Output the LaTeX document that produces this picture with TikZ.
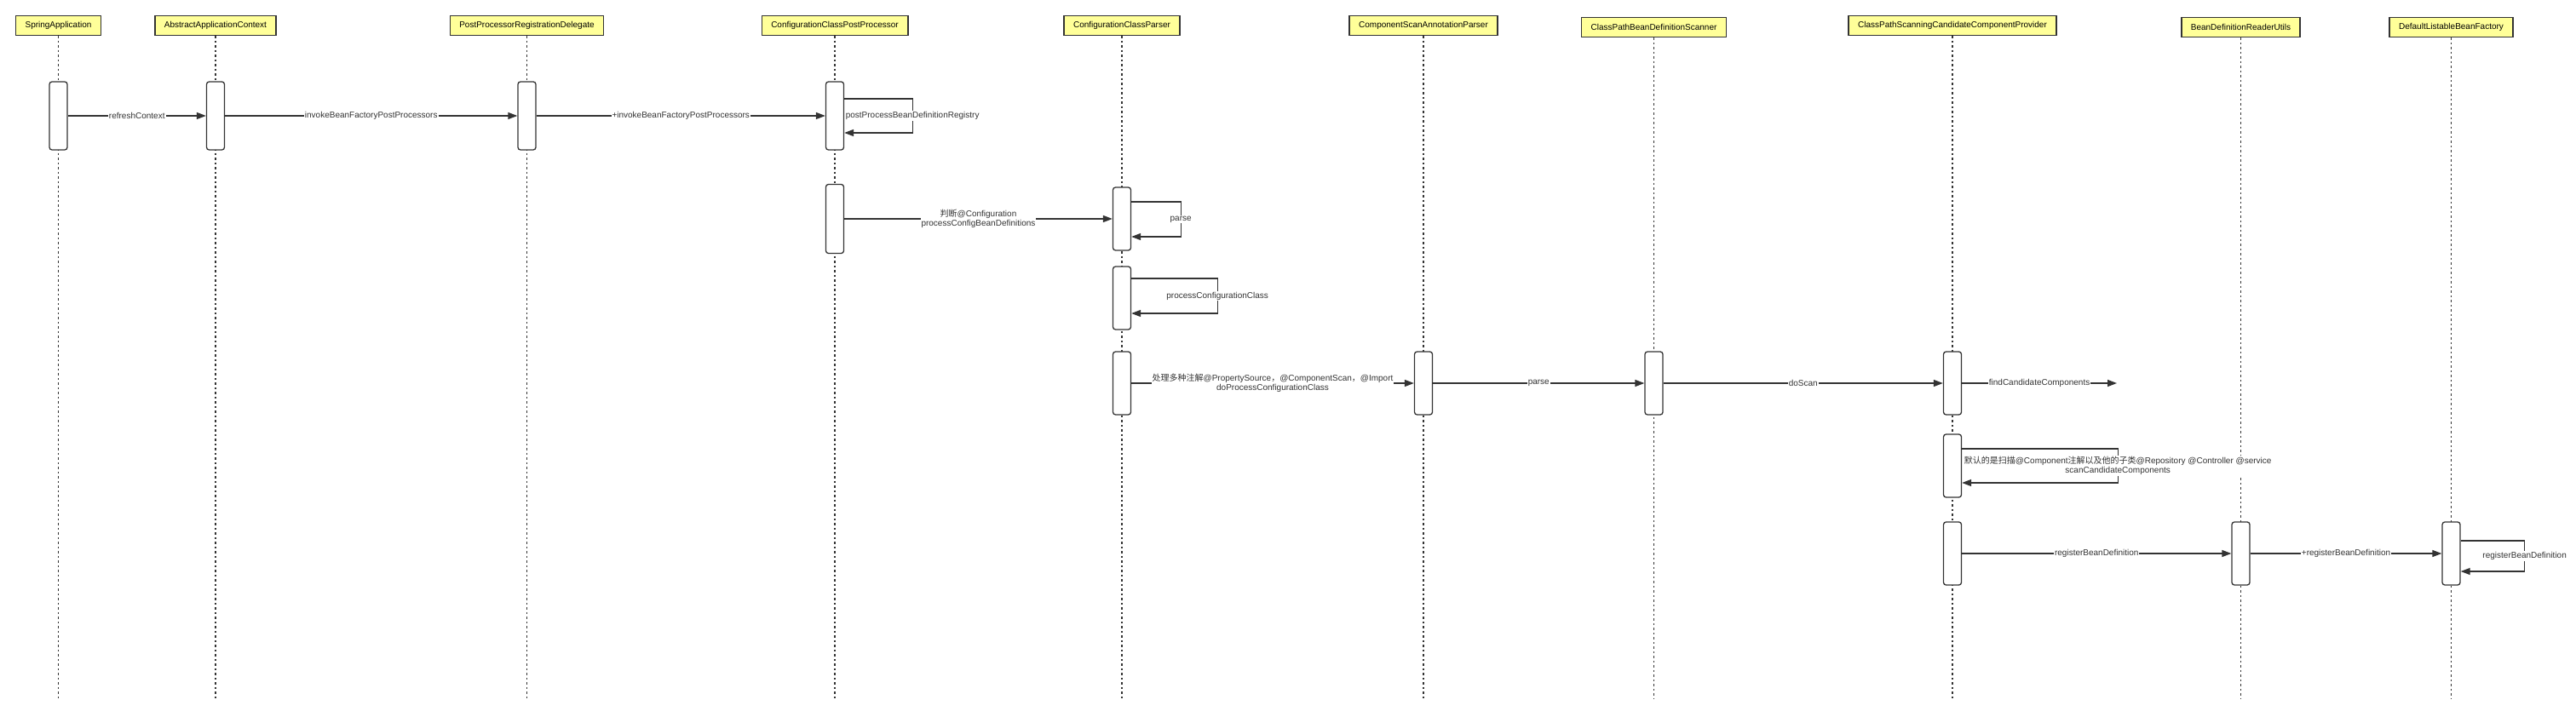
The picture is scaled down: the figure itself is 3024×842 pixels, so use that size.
\documentclass[tikz,border=0pt]{standalone}
\usepackage{fontspec}
\setmainfont{Liberation Sans}
\newfontfamily\cjk{Noto Sans CJK SC}
\usepackage{xcolor}
\usetikzlibrary{positioning,arrows.meta}
\definecolor{hdrfill}{HTML}{FFFF99}
\definecolor{ink}{HTML}{333333}

\begin{document}
\begin{tikzpicture}[x=1pt,y=-1pt,every node/.style={font=\fontsize{10}{11.5}\selectfont},
  hdr/.style={draw=ink, line width=1.5pt, fill=hdrfill, minimum height=23pt, inner xsep=11pt, inner ysep=0pt},
  act/.style={draw=ink, line width=1.3pt, fill=white, rounded corners=3pt, minimum width=21pt, minimum height=74pt, inner sep=0pt},
  life/.style={ink, line width=1.1pt, dash pattern=on 2.5pt off 3pt},
  msg/.style={ink, line width=1.3pt, -{Triangle[length=11pt,width=8pt]}},
  lbl/.style={fill=white, inner sep=1pt, align=center}]
\useasboundingbox (0,0) rectangle (3024,842);
% participants
\node[hdr] (sa) at (68.5,30) {SpringApplication};
\node[hdr] (aac) at (253,30) {AbstractApplicationContext};
\node[hdr] (pprd) at (618.5,30) {PostProcessorRegistrationDelegate};
\node[hdr] (ccpp) at (980,30) {ConfigurationClassPostProcessor};
\node[hdr] (ccp) at (1317,30) {ConfigurationClassParser};
\node[hdr] (csap) at (1671,30) {ComponentScanAnnotationParser};
\node[hdr] (cpbds) at (1941.5,32) {ClassPathBeanDefinitionScanner};
\node[hdr] (cpsccp) at (2292,30) {ClassPathScanningCandidateComponentProvider};
\node[hdr] (bdru) at (2630.5,32) {BeanDefinitionReaderUtils};
\node[hdr] (dlbf) at (2877.5,32) {DefaultListableBeanFactory};
\coordinate (bot) at (0,821);
\foreach \n in {sa,aac,pprd,ccpp,ccp,csap,cpbds,cpsccp,bdru,dlbf}
  \draw[life] (\n.south) -- (\n.south |- bot);
% rows
\coordinate (r1) at (0,136);
\coordinate (r2) at (0,257);
\coordinate (r3) at (0,350);
\coordinate (r4) at (0,450);
\coordinate (r5) at (0,547);
\coordinate (r6) at (0,650);
% activations
\node[act, minimum height=80pt] (sa1) at (sa |- r1) {};
\node[act, minimum height=80pt] (aac1) at (aac |- r1) {};
\node[act, minimum height=80pt] (pprd1) at (pprd |- r1) {};
\node[act, minimum height=80pt] (ccpp1) at (ccpp |- r1) {};
\node[act, minimum height=81pt] (ccpp2) at (ccpp |- r2) {};
\node[act] (ccp1) at (ccp |- r2) {};
\node[act] (ccp2) at (ccp |- r3) {};
\node[act] (ccp3) at (ccp |- r4) {};
\node[act] (csap1) at (csap |- r4) {};
\node[act] (cpbds1) at (cpbds |- r4) {};
\node[act] (cpsccp1) at (cpsccp |- r4) {};
\node[act] (cpsccp2) at (cpsccp |- r5) {};
\node[act] (cpsccp3) at (cpsccp |- r6) {};
\node[act] (bdru1) at (bdru |- r6) {};
\node[act] (dlbf1) at (dlbf |- r6) {};
\coordinate (fcc) at (2485,450);
% messages
\draw[msg] (sa1) -- node[lbl]{refreshContext} (aac1);
\draw[msg] (aac1) -- node[lbl]{invokeBeanFactoryPostProcessors} (pprd1);
\draw[msg] (pprd1) -- node[lbl]{+invokeBeanFactoryPostProcessors} (ccpp1);
\draw[msg] ([yshift=20pt]ccpp1.east) -- ++(80,0) -- node[lbl]{postProcessBeanDefinitionRegistry} ++(0,40) -- ([yshift=-20pt]ccpp1.east);
\draw[msg] (ccpp2) -- node[lbl]{{\cjk 判断}@Configuration\\processConfigBeanDefinitions} (ccp1);
\draw[msg] ([yshift=20pt]ccp1.east) -- ++(58,0) -- node[lbl]{parse} ++(0,41) -- ([yshift=-21pt]ccp1.east);
\draw[msg] ([yshift=23pt]ccp2.east) -- ++(101,0) -- node[lbl]{processConfigurationClass} ++(0,41) -- ([yshift=-18pt]ccp2.east);
\draw[msg] (ccp3) -- node[lbl]{{\cjk 处理多种注解}@PropertySource{\cjk ，}@ComponentScan{\cjk ，}@Import\\doProcessConfigurationClass} (csap1);
\draw[msg] (csap1) -- node[lbl]{parse} (cpbds1);
\draw[msg] (cpbds1) -- node[lbl]{doScan} (cpsccp1);
\draw[msg] (cpsccp1) -- node[lbl]{findCandidateComponents} (fcc);
\draw[msg] ([yshift=20pt]cpsccp2.east) -- ++(183,0) -- node[lbl]{{\cjk 默认的是扫描}@Component{\cjk 注解以及他的子类}@Repository @Controller @service\\scanCandidateComponents} ++(0,40) -- ([yshift=-20pt]cpsccp2.east);
\draw[msg] (cpsccp3) -- node[lbl]{registerBeanDefinition} (bdru1);
\draw[msg] (bdru1) -- node[lbl]{+registerBeanDefinition} (dlbf1);
\draw[msg] ([yshift=15pt]dlbf1.east) -- ++(75,0) -- node[lbl]{registerBeanDefinition} ++(0,36) -- ([yshift=-21pt]dlbf1.east);
\end{tikzpicture}
\end{document}
